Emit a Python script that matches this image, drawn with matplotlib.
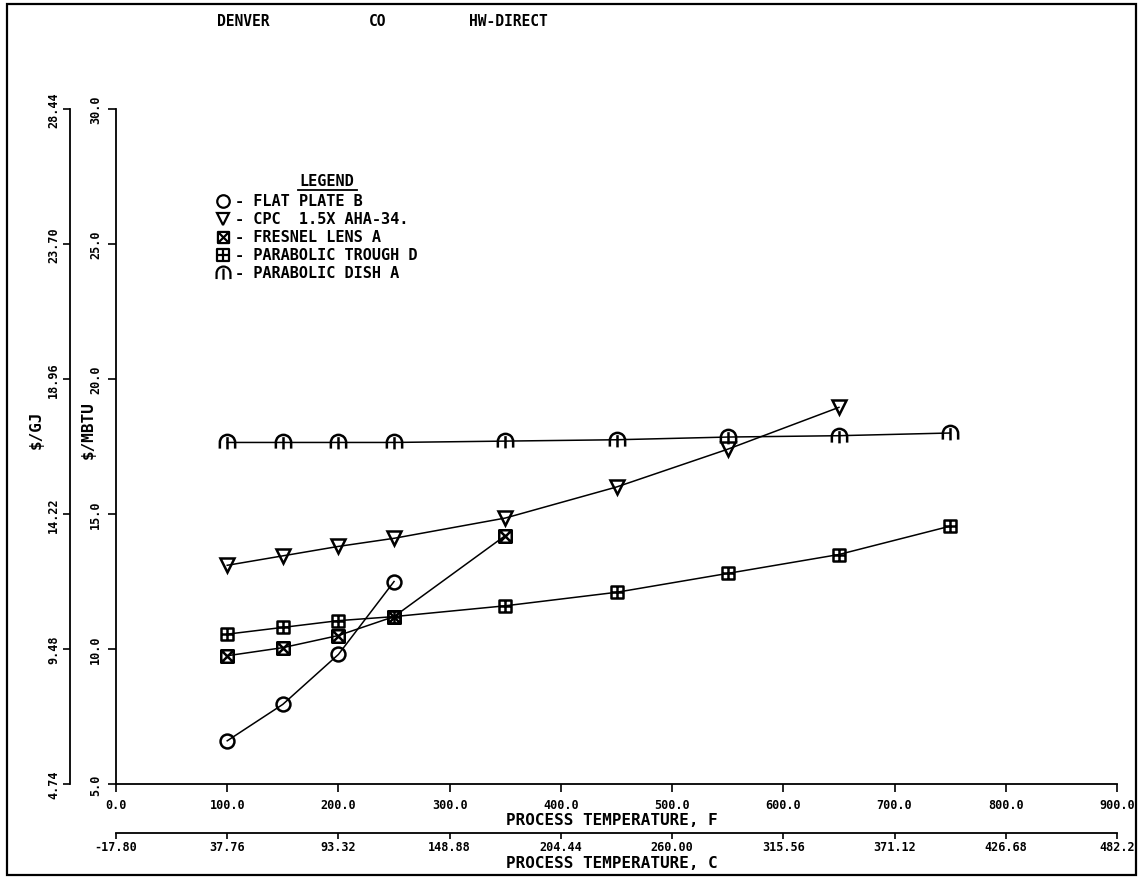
import matplotlib
matplotlib.use('Agg')
import matplotlib.pyplot as plt
from matplotlib.path import Path
from matplotlib.patches import Rectangle
from matplotlib.lines import Line2D

# data ($/MBTU vs process temperature, F)
flat_x = [100, 150, 200, 250]
flat_y = [6.6, 7.95, 9.8, 12.5]
cpc_x = [100, 150, 200, 250, 350, 450, 550, 650]
cpc_y = [13.1, 13.45, 13.8, 14.1, 14.85, 16.0, 17.4, 18.95]
fresnel_x = [100, 150, 200, 250, 350]
fresnel_y = [9.75, 10.05, 10.5, 11.2, 14.2]
trough_x = [100, 150, 200, 250, 350, 450, 550, 650, 750]
trough_y = [10.55, 10.8, 11.05, 11.2, 11.6, 12.1, 12.8, 13.5, 14.55]
dish_x = [100, 150, 200, 250, 350, 450, 550, 650, 750]
dish_y = [17.65, 17.65, 17.65, 17.65, 17.7, 17.75, 17.85, 17.9, 18.0]

names = ["FLAT PLATE B", "CPC  1.5X AHA-34.", "FRESNEL LENS A",
         "PARABOLIC TROUGH D", "PARABOLIC DISH A"]

f_ticks = [0, 100, 200, 300, 400, 500, 600, 700, 800, 900]
f_labels = ["0.0", "100.0", "200.0", "300.0", "400.0", "500.0", "600.0",
            "700.0", "800.0", "900.0"]
c_labels = ["-17.80", "37.76", "93.32", "148.88", "204.44", "260.00",
            "315.56", "371.12", "426.68", "482.2"]
mbtu_ticks = [5, 10, 15, 20, 25, 30]
mbtu_labels = ["5.0", "10.0", "15.0", "20.0", "25.0", "30.0"]
gj_labels = ["4.74", "9.48", "14.22", "18.96", "23.70", "28.44"]

W, H = 1139, 895
FONT = "DejaVu Sans Mono"

# custom plotter-style markers
M, L, C = Path.MOVETO, Path.LINETO, Path.CLOSEPOLY
box_x = Path([(-1, -1), (1, -1), (1, 1), (-1, 1), (-1, -1),
              (-1, -1), (1, 1), (-1, 1), (1, -1)],
             [M, L, L, L, C, M, L, M, L])
box_plus = Path([(-1, -1), (1, -1), (1, 1), (-1, 1), (-1, -1),
                 (0, -1), (0, 1), (-1, 0), (1, 0)],
                [M, L, L, L, C, M, L, M, L])
arc = Path.arc(0, 180)
legs = Path([(-1, 0), (-1, -0.8), (1, 0), (1, -0.8), (0, -0.9), (0, 0.7)],
            [M, L, M, L, M, L])
dish_marker = Path.make_compound_path(arc, legs)

styles = [
    dict(marker="o", ms=10),
    dict(marker="v", ms=10),
    dict(marker=box_x, ms=9),
    dict(marker=box_plus, ms=9),
    dict(marker=dish_marker, ms=11),
]
series = [(flat_x, flat_y), (cpc_x, cpc_y), (fresnel_x, fresnel_y),
          (trough_x, trough_y), (dish_x, dish_y)]

fig = plt.figure(figsize=(W / 100, H / 100), dpi=100)
ax = fig.add_axes([116 / W, 1 - 785 / H, 1001 / W, 675 / H])

for (xs, ys), st in zip(series, styles):
    ax.plot(xs, ys, color="black", lw=1.1, marker=st["marker"], ms=st["ms"],
            mfc="none", mec="black", mew=1.8)

ax.set_xlim(0, 900)
ax.set_ylim(5, 30)
for s in ["top", "right"]:
    ax.spines[s].set_visible(False)
for s in ["left", "bottom"]:
    ax.spines[s].set_linewidth(1.3)

tick_font = dict(family=FONT, weight="bold", size=8.5)
ax.set_xticks(f_ticks)
ax.set_xticklabels(f_labels, **tick_font)
ax.set_yticks(mbtu_ticks)
ax.set_yticklabels(mbtu_labels, rotation=90, va="center", **tick_font)
ax.tick_params(direction="out", length=6, width=1.2, pad=4)

# $/GJ axis
gj = ax.secondary_yaxis(-46 / 1001, functions=(lambda v: v / 1.055, lambda v: v * 1.055))
gj.set_yticks([v / 1.055 for v in mbtu_ticks])
gj.set_yticklabels(gj_labels, rotation=90, va="center", **tick_font)
gj.tick_params(direction="out", length=5, width=1.2, pad=2)
gj.spines["left"].set_linewidth(1.3)

# Celsius axis
cax = ax.secondary_xaxis(-49 / 675, functions=(lambda f: (f - 32) * 5 / 9, lambda c: c * 9 / 5 + 32))
cax.set_xticks([(f - 32) * 5 / 9 for f in f_ticks])
cax.set_xticklabels(c_labels, **tick_font)
cax.tick_params(direction="out", length=4, width=1.2, pad=1)
cax.spines["bottom"].set_linewidth(1.3)


def px(x, y):
    return x / W, 1 - y / H


lab_font = dict(family=FONT, weight="bold", size=11.5)
fig.text(*px(612, 821), "PROCESS TEMPERATURE, F", ha="center", va="center", **lab_font)
fig.text(*px(612, 864), "PROCESS TEMPERATURE, C", ha="center", va="center", **lab_font)
fig.text(*px(36, 430), "$/GJ", rotation=90, ha="center", va="center", **lab_font)
fig.text(*px(88, 430), "$/MBTU", rotation=90, ha="center", va="center", **lab_font)

# header
for x, t in [(243, "DENVER"), (378, "CO"), (508, "HW-DIRECT")]:
    fig.text(*px(x, 21), t, ha="center", va="center", family=FONT, weight="bold", size=10.5)

# legend
leg_font = dict(family=FONT, weight="bold", size=11)
fig.text(*px(327, 182), "LEGEND", ha="center", va="center", **leg_font)
fig.add_artist(Line2D([298 / W, 357 / W], [1 - 191 / H, 1 - 191 / H],
                      transform=fig.transFigure, color="black", lw=1.3))
rows = [202, 220, 238, 256, 274]
for name, st, y in zip(names, styles, rows):
    fig.add_artist(Line2D([223 / W], [1 - y / H], transform=fig.transFigure,
                          marker=st["marker"], ms=st["ms"] - 1, mfc="none",
                          mec="black", mew=1.6, ls="none"))
    fig.text(*px(235, y), "- " + name, ha="left", va="center", **leg_font)

# page frame
fig.add_artist(Rectangle((7 / W, 1 - 876 / H), 1129 / W, 871 / H,
                         transform=fig.transFigure, fill=False, lw=1.6, ec="black"))

fig.savefig("out.png", dpi=100)
